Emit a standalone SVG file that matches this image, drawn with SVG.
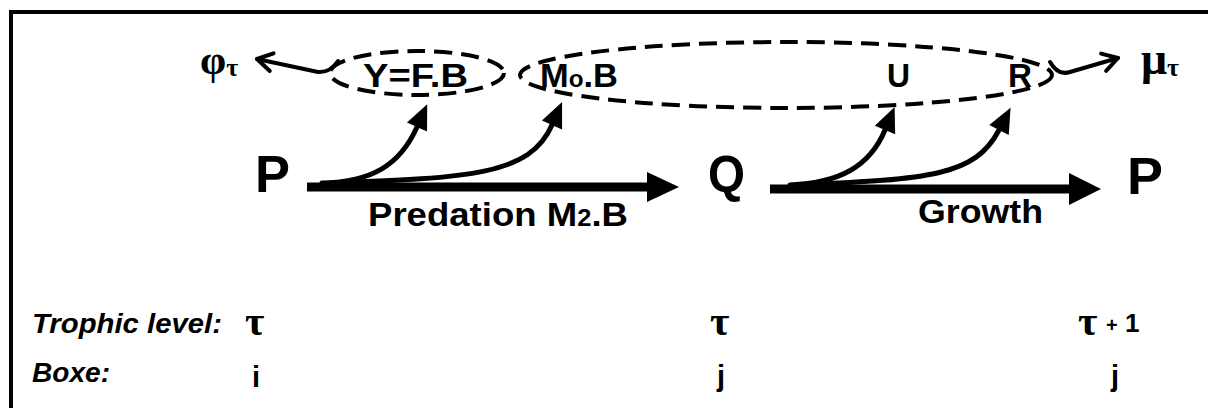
<svg xmlns="http://www.w3.org/2000/svg" width="1208" height="408" viewBox="0 0 1208 408">
<style>
.t{font-family:"Liberation Sans",Arial,sans-serif;font-weight:bold;fill:#000}
.s{font-family:"Liberation Serif","Times New Roman",serif;font-weight:bold;fill:#000}
.it{font-style:italic}
.dash{fill:none;stroke:#000;stroke-width:4;stroke-dasharray:18 9}
.main{stroke:#000;stroke-width:9;fill:none}
.cur{stroke:#000;stroke-width:5;fill:none;stroke-linecap:round}
.open{stroke:#000;stroke-width:4;fill:none;stroke-linecap:round;stroke-linejoin:round}
</style>
<defs>
<marker id="tri" markerUnits="userSpaceOnUse" markerWidth="32" markerHeight="32" viewBox="-2 -13 32 26" refX="0" refY="0" orient="auto">
<path d="M0,-11 L25,0 L0,11 z" fill="#000"/>
</marker>
<marker id="chev" markerUnits="userSpaceOnUse" markerWidth="30" markerHeight="30" viewBox="-20 -15 30 30" refX="0" refY="0" orient="auto">
<path d="M-15,-9 L0,0 L-15,9" fill="none" stroke="#000" stroke-width="4" stroke-linecap="round" stroke-linejoin="round"/>
</marker>
</defs>
<rect width="1208" height="408" fill="#fff"/>
<rect x="11" y="12" width="1300" height="500" fill="none" stroke="#000" stroke-width="4"/>

<g id="connectors">
<line class="main" x1="307" y1="187" x2="650" y2="187"/>
<polygon points="647,172 679,187 647,202" fill="#000"/>
<line class="main" x1="770" y1="189" x2="1072" y2="189"/>
<polygon points="1069,173 1101,189 1069,205" fill="#000"/>
<path class="cur" d="M322,183 C372,182 400,165 417,127" marker-end="url(#tri)"/>
<path class="cur" d="M330,183 C470,178 530,175 552,125" marker-end="url(#tri)"/>
<path class="cur" d="M790,185 C840,183 870,166 885,130" marker-end="url(#tri)"/>
<path class="cur" d="M800,185 C930,179 975,176 999,130" marker-end="url(#tri)"/>
<path class="open" d="M338,61 Q330,73 318,72 L257,59" marker-end="url(#chev)"/>
<path class="open" d="M1050,62 Q1058,76 1070,72 L1118,58" marker-end="url(#chev)"/>
</g>

<g id="node-P-left"><text class="t" x="255" y="192" font-size="51" textLength="35" lengthAdjust="spacingAndGlyphs">P</text></g>
<g id="node-Q"><text class="t" x="708" y="192" font-size="51" textLength="37" lengthAdjust="spacingAndGlyphs">Q</text></g>
<g id="node-P-right"><text class="t" x="1127" y="194" font-size="51" textLength="36" lengthAdjust="spacingAndGlyphs">P</text></g>

<g id="label-predation"><text class="t" x="368" y="226" font-size="33" textLength="260" lengthAdjust="spacingAndGlyphs">Predation M<tspan font-size="23">2</tspan>.B</text></g>
<g id="label-growth"><text class="t" x="918" y="223" font-size="33" textLength="125" lengthAdjust="spacingAndGlyphs">Growth</text></g>

<g id="node-yield">
<ellipse class="dash" cx="417" cy="73" rx="87" ry="22"/>
<text class="t" x="363" y="87" font-size="34" textLength="105" lengthAdjust="spacingAndGlyphs">Y=F.B</text>
</g>
<g id="node-other">
<ellipse class="dash" cx="786" cy="75" rx="266" ry="33"/>
<text class="t" x="540" y="87" font-size="34" textLength="78" lengthAdjust="spacingAndGlyphs">M<tspan font-size="24">o</tspan>.B</text>
</g>
<g id="node-U"><text class="t" x="887" y="87" font-size="34" textLength="23" lengthAdjust="spacingAndGlyphs">U</text></g>
<g id="node-R"><text class="t" x="1008" y="87" font-size="34" textLength="24" lengthAdjust="spacingAndGlyphs">R</text></g>

<g id="node-phi"><text class="s" x="200" y="74" font-size="42">φ<tspan font-size="26" dy="2">τ</tspan></text></g>
<g id="node-mu"><text class="s" x="1141" y="74" font-size="46">μ<tspan font-size="26" dy="2">τ</tspan></text></g>

<g id="legend">
<text class="t it" x="32" y="333" font-size="28" textLength="190" lengthAdjust="spacingAndGlyphs">Trophic level:</text>
<text class="t it" x="32" y="382" font-size="28" textLength="78" lengthAdjust="spacingAndGlyphs">Boxe:</text>
<text class="s" x="245" y="335" font-size="42">τ</text>
<text class="t" x="252" y="387" font-size="29">i</text>
<text class="s" x="710" y="335" font-size="42">τ</text>
<text class="t" x="717" y="386" font-size="29">j</text>
<text class="s" x="1078" y="335" font-size="42">τ</text>
<text class="t" x="1106" y="332" font-size="26"><tspan font-size="20">+</tspan> 1</text>
<text class="t" x="1111" y="386" font-size="29">j</text>
</g>
</svg>
